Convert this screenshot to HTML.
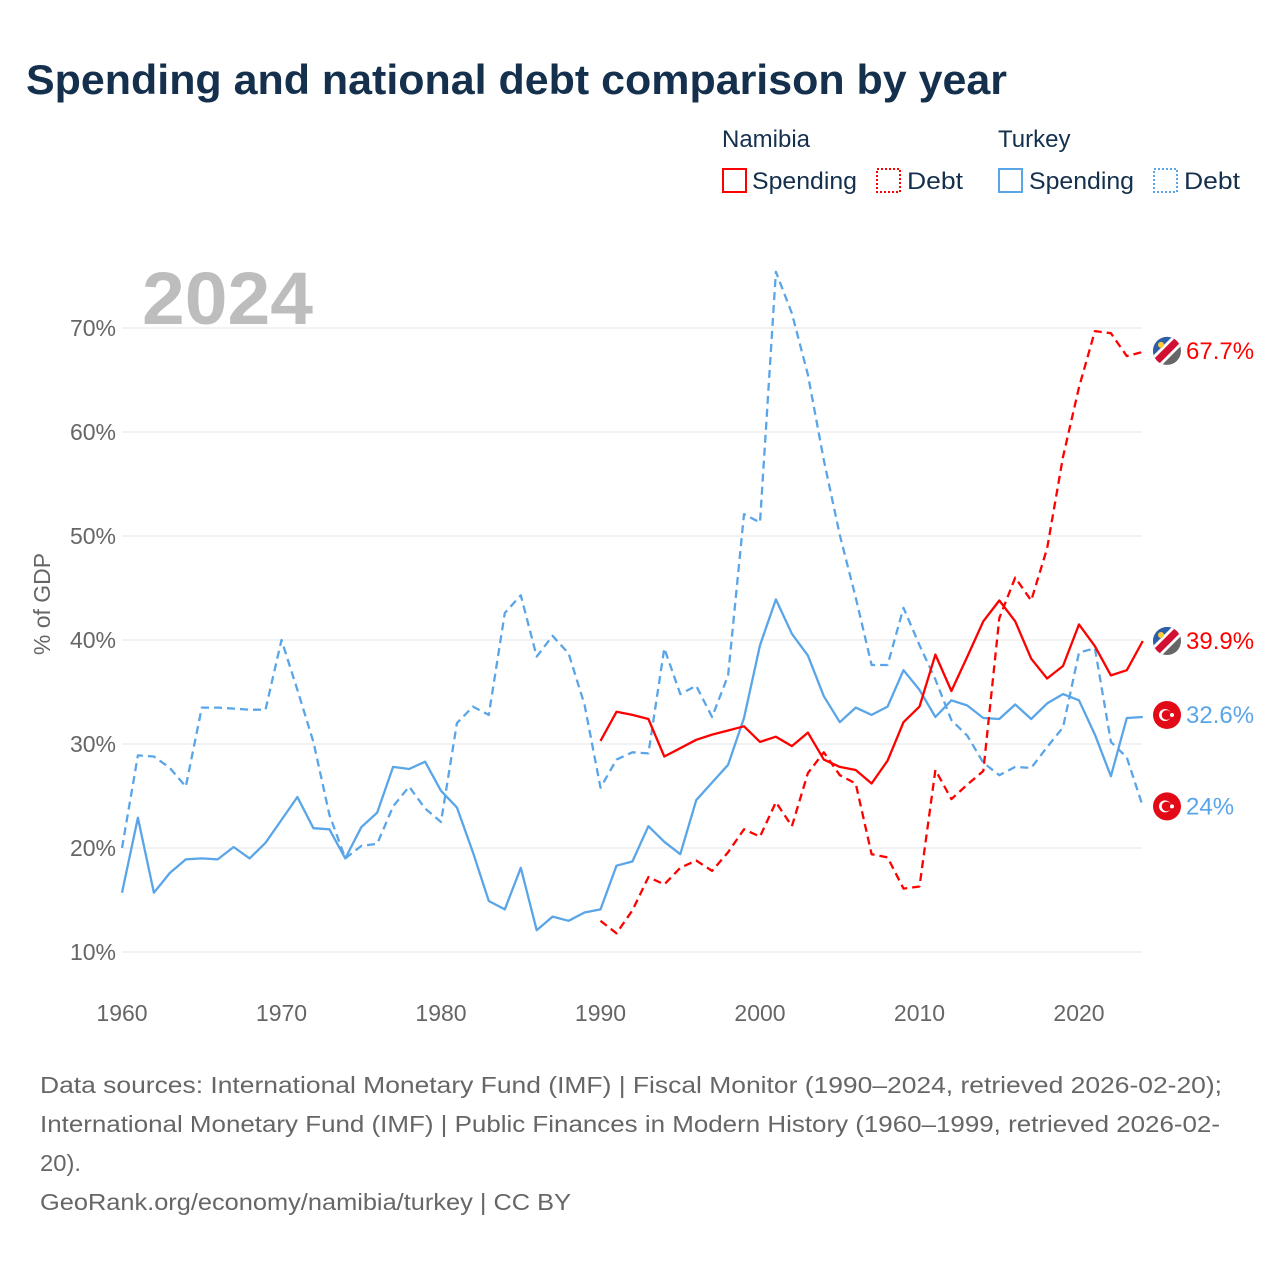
<!DOCTYPE html>
<html><head><meta charset="utf-8">
<style>
body{margin:0;background:#fff;width:1280px;height:1280px;overflow:hidden;font-family:"Liberation Sans",sans-serif;}
svg text{font-family:"Liberation Sans",sans-serif;}
</style></head>
<body>
<svg id="chart" width="1280" height="1280" viewBox="0 0 1280 1280">
<text x="26" y="94" font-size="42" font-weight="bold" fill="#14304d" textLength="981" lengthAdjust="spacingAndGlyphs">Spending and national debt comparison by year</text>
<g>
<text x="722" y="147" font-size="24" fill="#14304d">Namibia</text>
<text x="998" y="147" font-size="24" fill="#14304d">Turkey</text>
<g><rect x="723" y="169" width="23" height="23" fill="none" stroke="#f00" stroke-width="2"/><text x="752" y="189" font-size="24" fill="#14304d" textLength="105" lengthAdjust="spacingAndGlyphs">Spending</text></g>
<g><rect x="877" y="169" width="23" height="23" fill="none" stroke="#f00" stroke-width="2" stroke-dasharray="2,2"/><text x="907" y="189" font-size="24" fill="#14304d" textLength="56" lengthAdjust="spacingAndGlyphs">Debt</text></g>
<g><rect x="999" y="169" width="23" height="23" fill="none" stroke="#5aa5e8" stroke-width="2"/><text x="1029" y="189" font-size="24" fill="#14304d" textLength="105" lengthAdjust="spacingAndGlyphs">Spending</text></g>
<g><rect x="1154" y="169" width="23" height="23" fill="none" stroke="#5aa5e8" stroke-width="2" stroke-dasharray="2,2"/><text x="1184" y="189" font-size="24" fill="#14304d" textLength="56" lengthAdjust="spacingAndGlyphs">Debt</text></g>
</g>
<text x="142" y="324" font-size="74" font-weight="bold" fill="#bdbdbd" textLength="171" lengthAdjust="spacingAndGlyphs">2024</text>
<text transform="translate(50,604) rotate(-90)" text-anchor="middle" font-size="23" fill="#666">% of GDP</text>
<g id="grid"></g><g id="series"></g><g id="ends"></g>
<g font-size="23" fill="#666">
<text x="40" y="1093" textLength="1182" lengthAdjust="spacingAndGlyphs">Data sources: International Monetary Fund (IMF) | Fiscal Monitor (1990–2024, retrieved 2026-02-20);</text>
<text x="40" y="1132" textLength="1180" lengthAdjust="spacingAndGlyphs">International Monetary Fund (IMF) | Public Finances in Modern History (1960–1999, retrieved 2026-02-</text>
<text x="40" y="1171" textLength="41" lengthAdjust="spacingAndGlyphs">20).</text>
<text x="40" y="1210" textLength="531" lengthAdjust="spacingAndGlyphs">GeoRank.org/economy/namibia/turkey | CC BY</text>
</g>
</svg>
<script>
const yTicks=[10,20,30,40,50,60,70];
const xTicks=[1960,1970,1980,1990,2000,2010,2020];
const turkeyYears0=1960;
const turkeySpending=[15.7,22.9,15.7,17.6,18.9,19.0,18.9,20.1,19.0,20.5,22.7,24.9,21.9,21.8,19.0,22.0,23.4,27.8,27.6,28.3,25.5,23.9,19.6,14.9,14.1,18.1,12.1,13.4,13.0,13.8,14.1,18.3,18.7,22.1,20.6,19.4,24.6,26.3,28.0,32.5,39.5,43.9,40.6,38.5,34.6,32.1,33.5,32.8,33.6,37.1,35.2,32.6,34.2,33.7,32.5,32.4,33.8,32.4,33.9,34.8,34.2,30.9,26.9,32.5,32.6];
const turkeyDebt=[20.0,28.9,28.8,27.7,25.9,33.5,33.5,33.4,33.3,33.3,40.0,35.2,30.2,23.2,19.0,20.2,20.4,24.0,25.9,23.8,22.5,32.0,33.6,32.8,42.6,44.3,38.4,40.4,38.7,33.8,25.8,28.5,29.2,29.1,39.2,34.8,35.6,32.6,36.6,52.1,51.3,75.4,71.4,65.5,57.3,50.1,44.1,37.6,37.6,43.1,39.5,36.2,32.3,30.8,28.2,27.0,27.8,27.7,29.7,31.6,38.8,39.2,30.2,28.7,24.0];
const namibiaYears0=1990;
const namibiaSpending=[30.3,33.1,32.8,32.4,28.8,29.6,30.4,30.9,31.3,31.7,30.2,30.7,29.8,31.1,28.5,27.8,27.5,26.2,28.4,32.1,33.6,38.6,35.1,38.4,41.8,43.8,41.8,38.2,36.3,37.5,41.5,39.4,36.6,37.1,39.9];
const namibiaDebt=[13.0,11.8,14.0,17.2,16.5,18.1,18.8,17.8,19.6,21.8,21.1,24.4,22.1,27.2,29.2,27.0,26.2,19.4,19.1,16.1,16.3,27.5,24.7,26.1,27.4,42.1,46.0,43.8,48.8,57.6,64.3,69.7,69.5,67.3,67.7];

const NS='http://www.w3.org/2000/svg';
const X=yr=>122+(yr-1960)*15.95;
const Y=v=>952-(v-10)*10.4;
function mk(tag,attrs,parent){const e=document.createElementNS(NS,tag);for(const k in attrs)e.setAttribute(k,attrs[k]);parent.appendChild(e);return e;}
const grid=document.getElementById('grid');
yTicks.forEach(t=>{
  const l=mk('line',{x1:122,x2:1142,y1:Y(t),y2:Y(t),stroke:'#e6e6e6','stroke-width':1},grid);
  
  
  const tx=mk('text',{x:116,y:Y(t)+8,'text-anchor':'end','font-size':23,fill:'#666'},grid);
  tx.textContent=t+'%';
  
  
});
xTicks.forEach(t=>{
  const tx=mk('text',{x:X(t),y:1021,'text-anchor':'middle','font-size':23,fill:'#666'},grid);
  tx.textContent=t;
  
  
});
const ser=document.getElementById('series');
function line(data,y0,color,dash,name){
  const pts=data.map((v,i)=>X(y0+i).toFixed(1)+','+Y(v).toFixed(1)).join(' ');
  const p=mk('polyline',{points:pts,fill:'none',stroke:color,'stroke-width':2.3,'stroke-linejoin':'round'},ser);
  if(dash)p.setAttribute('stroke-dasharray','8,5');
  
  
}
line(turkeyDebt,turkeyYears0,'#5aa5e8',true,'turkey-debt-line');
line(turkeySpending,turkeyYears0,'#5aa5e8',false,'turkey-spending-line');
line(namibiaDebt,namibiaYears0,'#f00',true,'namibia-debt-line');
line(namibiaSpending,namibiaYears0,'#f00',false,'namibia-spending-line');
const ends=document.getElementById('ends');
function flag(kind,v,color,name,offset){
  const cx=1167,cy=Y(v)+(offset||0);
  const g=mk('g',{},ends);
  
  
  if(kind==='na'){
    const id='clip'+name;
    const cp=mk('clipPath',{id:id},g);mk('circle',{cx:cx,cy:cy,r:14},cp);
    const gg=mk('g',{'clip-path':'url(#'+id+')'},g);
    mk('rect',{x:cx-15,y:cy-15,width:30,height:30,fill:'#666'},gg);
    mk('polygon',{points:`${cx-15},${cy-15} ${cx+10},${cy-15} ${cx-15},${cy+10}`,fill:'#2f5fa8'},gg);
    mk('polygon',{points:`${cx+6},${cy-15} ${cx+15},${cy-15} ${cx+15},${cy-6} ${cx-6},${cy+15} ${cx-15},${cy+15} ${cx-15},${cy+6}`,fill:'#fff'},gg);
    mk('polygon',{points:`${cx+10},${cy-15} ${cx+15},${cy-10} ${cx-10},${cy+15} ${cx-15},${cy+10}`,fill:'#d21034'},gg);
    mk('circle',{cx:cx-6,cy:cy-6,r:3,fill:'#fc3'},gg);
  } else {
    mk('circle',{cx:cx,cy:cy,r:14,fill:'#e30a17'},g);
    mk('circle',{cx:cx-2,cy:cy,r:6,fill:'#fff'},g);
    mk('circle',{cx:cx-0.5,cy:cy,r:4.8,fill:'#e30a17'},g);
    mk('circle',{cx:cx+5,cy:cy,r:2,fill:'#fff'},g);
  }
  const t=mk('text',{x:1186,y:cy+8,'font-size':24,fill:color},g);
  t.textContent=(Math.round(v*10)/10)+'%';
}
flag('na',namibiaDebt[namibiaDebt.length-1],'#f00','namibia-debt-end-label',-1);
flag('na',namibiaSpending[namibiaSpending.length-1],'#f00','namibia-spending-end-label');
flag('tr',turkeySpending[turkeySpending.length-1],'#5aa5e8','turkey-spending-end-label',-2);
flag('tr',turkeyDebt[turkeyDebt.length-1],'#5aa5e8','turkey-debt-end-label');
</script>
</body></html>
